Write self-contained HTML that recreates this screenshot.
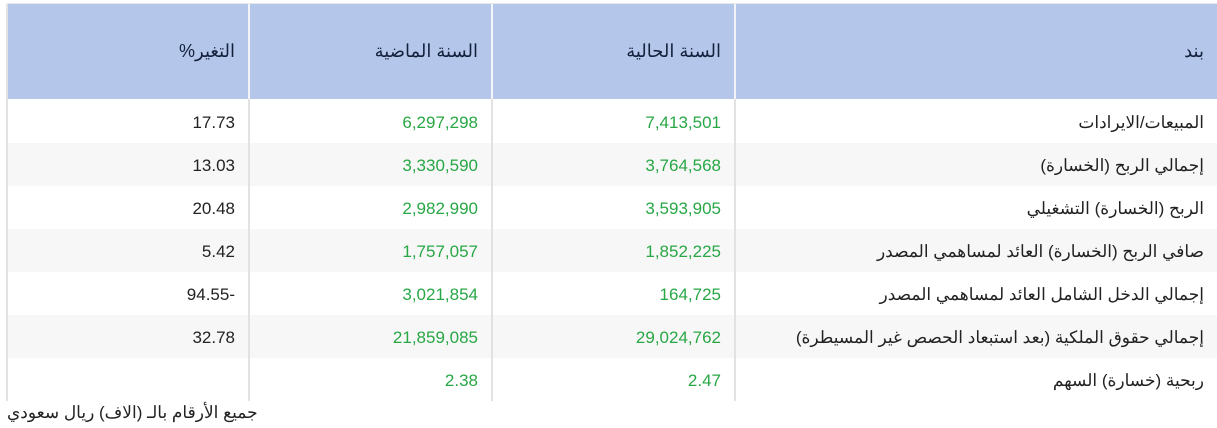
<!DOCTYPE html>
<html><head><meta charset="utf-8"><style>
body{margin:0;width:1217px;height:428px;background:#fff;font-family:"Liberation Sans","Noto Sans CJK SC",sans-serif;position:relative;overflow:hidden}
.c{position:absolute;box-sizing:border-box;text-align:right;padding-right:13px;font-size:17px;color:#222;direction:rtl}
.h{background:#b4c6ea;color:#14213d;font-size:18px;line-height:95px;top:4px;height:95px}
.g{color:#28a745}
.v{position:absolute;width:2px;background:#e2e2e2}
.vw{position:absolute;width:2px;background:#f2f4f8;top:4px;height:95px}
</style></head><body>
<div style="position:absolute;left:7px;top:3px;width:1210px;height:1px;background:#e8e8e8"></div>
<div class="c h" style="left:7px;width:241px">التغير%</div>
<div class="c h" style="left:250px;width:241px">السنة الماضية</div>
<div class="c h" style="left:493px;width:241px">السنة الحالية</div>
<div class="c h" style="left:736px;width:481px">بند</div>
<div id="rows"></div>
<div class="v" style="left:6px;top:4px;height:397px"></div>
<div class="v" style="left:248px;top:99px;height:302px"></div>
<div class="v" style="left:491px;top:99px;height:302px"></div>
<div class="v" style="left:734px;top:99px;height:302px"></div>
<div class="vw" style="left:248px"></div>
<div class="vw" style="left:491px"></div>
<div class="vw" style="left:734px"></div>
<div style="position:absolute;left:7px;top:403px;font-size:17px;color:#222;direction:rtl">جميع الأرقام بالـ (الاف) ريال سعودي</div>
<script>
var d=[["17.73","6,297,298","7,413,501","المبيعات/الايرادات"],
["13.03","3,330,590","3,764,568","إجمالي الربح (الخسارة)"],
["20.48","2,982,990","3,593,905","الربح (الخسارة) التشغيلي"],
["5.42","1,757,057","1,852,225","صافي الربح (الخسارة) العائد لمساهمي المصدر"],
["-94.55","3,021,854","164,725","إجمالي الدخل الشامل العائد لمساهمي المصدر"],
["32.78","21,859,085","29,024,762","إجمالي حقوق الملكية (بعد استبعاد الحصص غير المسيطرة)"],
["","2.38","2.47","ربحية (خسارة) السهم"]];
var h="",L=[7,250,493,736],W=[241,241,241,481];
d.forEach(function(r,i){var t=100+i*43;
if(i%2==1)h+='<div style="position:absolute;left:7px;top:'+t+'px;width:1210px;height:43px;background:#f7f7f7"></div>';
r.forEach(function(s,j){var txt=(j==0&&s[0]=="-")?s.slice(1)+"-":s;
h+='<div class="c'+((j==1||j==2)?' g':'')+'" style="left:'+L[j]+'px;width:'+W[j]+'px;top:'+t+'px;height:43px;line-height:45px;'+(j==0?'direction:ltr;':'')+'">'+txt+'</div>';});});
document.getElementById("rows").innerHTML=h;
</script>
</body></html>
